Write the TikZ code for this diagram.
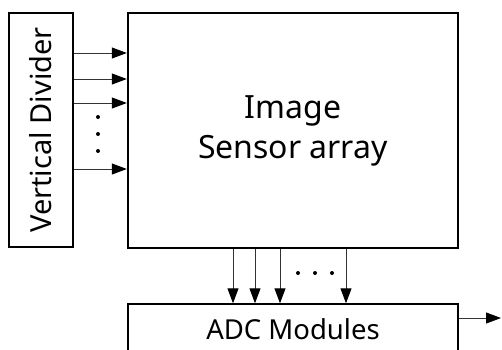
\documentclass[tikz,border=0pt]{standalone}
\usepackage{fontspec}
\setmainfont{Noto Sans}
\usepackage{tikz}
\usetikzlibrary{arrows.meta,positioning,calc}
\definecolor{Ink}{HTML}{000000}
\definecolor{Wire}{HTML}{333333}
\tikzset{
  block/.style={draw=Ink,fill=white,line width=1.4pt,align=center,inner sep=0pt},
  array/.style={draw=Ink,fill=white,line width=2.4pt,align=center,inner sep=0pt},
  flow/.style={-{Triangle[length=15pt,width=11pt,color=Ink]},draw=Wire,line width=1pt},
  dotmark/.style={fill=Ink}
}
\begin{document}
\begin{tikzpicture}[x=1pt,y=-1pt]
        \clip (0,0) rectangle (502,349);
        \node[array,minimum width=330pt,minimum height=235pt,font=\fontsize{32}{40}\selectfont] (sensor) at (293,130.5) {Image\\Sensor array};
        \node[block,rotate=90,minimum width=234pt,minimum height=64pt,font=\fontsize{29}{34}\selectfont] (divider) at (41,130) {Vertical Divider};
        \node[block,minimum width=330pt,minimum height=60pt,font=\fontsize{27.5}{34}\selectfont] (adc) at (293,334) {\raisebox{9pt}{ADC Modules}};
        \coordinate (out) at (501,318);
        % divider to sensor
        \foreach \y in {53,79,103,169}
          \draw[flow] (divider.south |- 0,\y) -- (sensor.west |- 0,\y);
        \foreach \y in {117,134,151}
          \fill[dotmark] (98,\y) circle (2pt);
        % sensor to adc
        \foreach \x in {233,255,280,346}
          \draw[flow] (sensor.south -| \x,0) -- (adc.north -| \x,0);
        \foreach \x in {298,315,332}
          \fill[dotmark] (\x,273) circle (2pt);
        \draw[flow] (adc.east |- out) -- (out);
      \end{tikzpicture}
\end{document}
